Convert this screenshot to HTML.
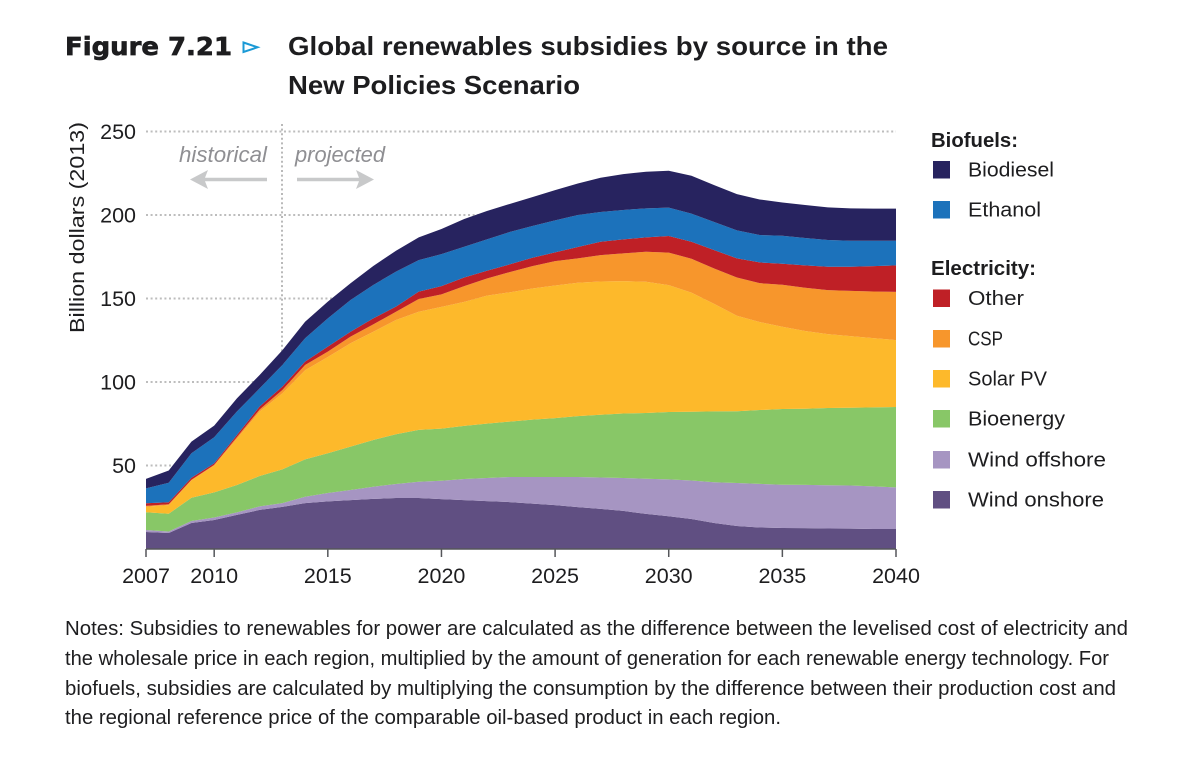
<!DOCTYPE html>
<html lang="en">
<head>
<meta charset="utf-8">
<title>Global renewables subsidies by source</title>
<style>
html,body{margin:0;padding:0;background:#fff;width:1200px;height:764px;overflow:hidden}
svg{display:block}
text{font-family:"Liberation Sans",sans-serif;fill:#1d1d1f}
</style>
</head>
<body>
<svg id="chart" xmlns="http://www.w3.org/2000/svg" width="1200" height="764" viewBox="0 0 1200 764">
  <rect x="0" y="0" width="1200" height="764" fill="#fff"/>
  <text x="65" y="55" style="font-family:'DejaVu Sans',sans-serif;font-weight:bold;font-size:25px;stroke:#1d1d1f;stroke-width:0.7px" textLength="167" lengthAdjust="spacingAndGlyphs">Figure 7.21</text>
  <polygon points="243.5,42.5 257.5,47.3 243.5,52" fill="none" stroke="#1b9ad6" stroke-width="2"/>
  <text x="288" y="55" style="font-weight:bold;font-size:26px" textLength="600" lengthAdjust="spacingAndGlyphs">Global renewables subsidies by source in the</text>
  <text x="288" y="94" style="font-weight:bold;font-size:26px" textLength="292" lengthAdjust="spacingAndGlyphs">New Policies Scenario</text>

  <text transform="translate(84,333) rotate(-90)" style="font-size:20px" textLength="211" lengthAdjust="spacingAndGlyphs">Billion dollars (2013)</text>

  <g id="grid"></g>
  <line x1="282" y1="124" x2="282" y2="380" stroke="#b9b9b9" stroke-width="2" stroke-dasharray="2 2.6"/>
  <g id="areas"></g>
  <g id="axis"></g>
  <g id="ylabels"></g>

  <text x="179" y="162" style="font-style:italic;font-size:22px;fill:#8f8f93" textLength="88" lengthAdjust="spacingAndGlyphs">historical</text>
  <text x="295" y="162" style="font-style:italic;font-size:22px;fill:#8f8f93" textLength="90" lengthAdjust="spacingAndGlyphs">projected</text>
  <polygon points="267,177.8 205,177.8 208,170 190,179.5 208,189 205,181.2 267,181.2" fill="#c8c9ca"/>
  <polygon points="297,177.8 359,177.8 356,170 374,179.5 356,189 359,181.2 297,181.2" fill="#c8c9ca"/>

  <g id="legend"></g>
  <text x="931" y="147" style="font-weight:bold;font-size:20px" textLength="87" lengthAdjust="spacingAndGlyphs">Biofuels:</text>
  <text x="931" y="275" style="font-weight:bold;font-size:20px" textLength="105" lengthAdjust="spacingAndGlyphs">Electricity:</text>

  <text x="65" y="635" style="font-size:20px" textLength="1063" lengthAdjust="spacingAndGlyphs">Notes: Subsidies to renewables for power are calculated as the difference between the levelised cost of electricity and</text>
  <text x="65" y="665" style="font-size:20px" textLength="1044" lengthAdjust="spacingAndGlyphs">the wholesale price in each region, multiplied by the amount of generation for each renewable energy technology. For</text>
  <text x="65" y="695" style="font-size:20px" textLength="1051" lengthAdjust="spacingAndGlyphs">biofuels, subsidies are calculated by multiplying the consumption by the difference between their production cost and</text>
  <text x="65" y="724" style="font-size:20px" textLength="716" lengthAdjust="spacingAndGlyphs">the regional reference price of the comparable oil-based product in each region.</text>
</svg>
<script>
var years = [2007,2008,2009,2010,2011,2012,2013,2014,2015,2016,2017,2018,2019,2020,2021,2022,2023,2024,2025,2026,2027,2028,2029,2030,2031,2032,2033,2034,2035,2036,2037,2038,2039,2040];
var xTickLabels = [2007,2010,2015,2020,2025,2030,2035,2040];
var yTickLabels = [50,100,150,200,250];
var windOnshore = [10.2,9.6,15.6,17.4,20.4,23.4,25.2,27.5,28.5,29.3,30,30.5,30.5,29.9,29.3,28.7,28.1,27.2,26.3,25.1,24,22.8,21,19.6,18,15.6,13.8,12.9,12.6,12.5,12.3,12.2,12,12];
var windOffshore = [1.2,0.9,1.2,1.5,1.5,2.1,2.3,3.8,5,6,7.3,8.4,9.8,11,12.6,13.8,15,15.9,16.8,18,18.8,19.7,21.1,22.1,23,24.4,25.7,26.1,25.9,25.9,25.9,25.8,25.5,24.9];
var bioenergy = [10.6,10.6,13.9,15,16.4,18.2,20.2,22.4,23.8,26,28,29.8,31,31.2,31.8,32.6,33.2,34.4,35.3,36.5,37.6,38.6,39.3,40.3,41.2,42.4,43,44.2,45.3,45.6,46.2,46.6,47.3,48.1];
var solarPV = [3.3,5.2,10.3,16.1,27.7,38.6,45.5,53.3,57.7,61.9,64.8,68.4,70.8,72.9,74.3,76.6,77.4,78.5,79.4,79.8,79.8,79.3,78.6,76,71.3,64.4,57.2,52.7,49.3,46.5,44.3,42.9,41.5,40.1];
var csp = [0.5,0.5,0.5,0.4,1,1.2,2,3.2,3.2,4,4.4,5,7.6,7.5,9.4,10.3,12.1,13.4,14.6,14.6,15.8,16.6,18,19.5,20.3,21.2,22.9,23.3,25.1,25.9,26.3,27.1,27.9,28.9];
var otherElectricity = [1.6,1.2,1.2,0.9,1.3,1.8,2,2,3,2.9,3.6,3,4.4,4.9,5.2,4.6,4.6,5,5.2,6.8,8,8.4,8.6,9.9,10.2,11,11.4,12.4,12.6,13.4,14,14.4,15.2,15.8];
var ethanol = [8.9,11.7,14.6,15.6,14,10.9,13,14,16.9,19,20,21,18.9,19.2,18.4,18.8,19.4,19,19.2,19.2,17.8,17.6,17.4,17,16.8,16.8,16.8,16.4,16.8,16.4,16,15.6,15.2,14.8];
var biodiesel = [5.7,7.3,7,7,7.9,8,8.8,9.9,10,10,11.4,12.5,13.6,15,16.6,17,16.8,17.3,18.1,18.9,20.5,21.5,21.9,22.1,22.7,22.1,21.7,21.3,19.9,19.8,19.6,19.4,19.2,19.2];
var seriesNames = ["Wind onshore","Wind offshore","Bioenergy","Solar PV","CSP","Other","Ethanol","Biodiesel"];

var NS = "http://www.w3.org/2000/svg";
var seriesValues = [windOnshore, windOffshore, bioenergy, solarPV, csp, otherElectricity, ethanol, biodiesel];
var seriesColors = ["#604f82","#a695c2","#88c767","#fdb92b","#f7962c","#bf2026","#1c72bb","#27235f"];
var legendRows = [491,451,410,370,330,289.5,201,161];
var legendTextWidths = [136,138,97,79,35,56,73,86];

function xScale(year){ return 146 + (year - 2007) * (750 / 33); }
function yScale(v){ return 549 - v * 1.67; }
function make(tag, attrs, parent, txt){
  var el = document.createElementNS(NS, tag);
  for (var k in attrs) el.setAttribute(k, attrs[k]);
  if (txt !== undefined) el.textContent = txt;
  parent.appendChild(el);
  return el;
}
function slug(s){ return s.toLowerCase().replace(/\s+/g, '-'); }

var gridG = document.getElementById('grid');
yTickLabels.forEach(function(t){
  var l = make('line', {x1:146, x2:896, y1:yScale(t), y2:yScale(t), stroke:'#bdbdbd', 'stroke-width':2, 'stroke-dasharray':'2 2.6'}, gridG);
  
  
});

var areasG = document.getElementById('areas');
var base = years.map(function(){ return 0; });
seriesValues.forEach(function(vals, i){
  var top = vals.map(function(v, j){ return base[j] + v; });
  var pts = [];
  years.forEach(function(y, j){ pts.push(xScale(y).toFixed(2) + ',' + yScale(top[j]).toFixed(2)); });
  for (var j = years.length - 1; j >= 0; j--) pts.push(xScale(years[j]).toFixed(2) + ',' + yScale(base[j]).toFixed(2));
  var p = make('polygon', {points:pts.join(' '), fill:seriesColors[i]}, areasG);
  
  
  base = top;
});

var axisG = document.getElementById('axis');
var axisLine = make('line', {x1:xScale(2007), x2:xScale(2040), y1:yScale(0), y2:yScale(0), stroke:'#55565a', 'stroke-width':1.5}, axisG);


xTickLabels.forEach(function(t){
  var tick = make('line', {x1:xScale(t), x2:xScale(t), y1:549, y2:557, stroke:'#55565a', 'stroke-width':1.5}, axisG);
  
  
  var lab = make('text', {x:xScale(t), y:583, 'text-anchor':'middle', style:'font-size:21.5px'}, axisG, String(t));
  
  
});

var yG = document.getElementById('ylabels');
yTickLabels.forEach(function(t){
  var lab = make('text', {x:136, y:yScale(t) + 7.5, 'text-anchor':'end', style:'font-size:21.5px'}, yG, String(t));
  
  
});

var legG = document.getElementById('legend');
seriesNames.forEach(function(name, i){
  var sw = make('rect', {x:933, y:legendRows[i], width:17, height:17.5, fill:seriesColors[i]}, legG);
  
  
  var tx = make('text', {x:968, y:legendRows[i] + 15.5, style:'font-size:20.5px', textLength:legendTextWidths[i], lengthAdjust:'spacingAndGlyphs'}, legG, name);
  
  
});
</script>
</body>
</html>
